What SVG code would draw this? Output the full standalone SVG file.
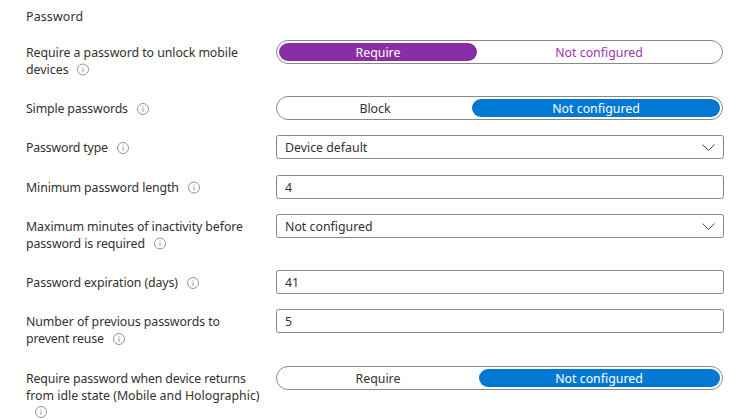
<svg xmlns="http://www.w3.org/2000/svg" width="752" height="420" viewBox="0 0 752 420">
<defs>
<g id="info"><circle cx="0" cy="0" r="5.5" fill="none" stroke="#8a8886" stroke-width="0.9"/><line x1="0" y1="-0.8" x2="0" y2="2.8" stroke="#8a8886" stroke-width="0.9"/><circle cx="0" cy="-2.5" r="0.6" fill="#8a8886"/></g>
</defs>
<style>
text{font-family:"Noto Sans","Open Sans","Liberation Sans",sans-serif;font-size:12.35px;fill:#323130}
.c{text-anchor:middle}
.w{fill:#fff}
.p{fill:#9b36ad}
.box{fill:#fff;stroke:#8a8886;stroke-width:1}
.chev{fill:none;stroke:#4a4a4a;stroke-width:1}
</style>
<rect width="752" height="420" fill="#fff"/>
<g id="heading"><text x="26" y="21" textLength="57">Password</text></g>

<g id="row-require-password">
<text x="26" y="57" textLength="212">Require a password to unlock mobile</text>
<text x="26" y="74">devices</text>
<use href="#info" x="83" y="69.5"/>
<rect class="box" x="276.5" y="40.5" width="446" height="23" rx="11.5"/>
<rect x="279" y="43" width="198" height="18" rx="9" fill="#8a2da5"/>
<text class="c w" x="378" y="57">Require</text>
<text class="c p" x="599" y="57">Not configured</text>
</g>

<g id="row-simple-passwords">
<text x="26" y="113" textLength="102">Simple passwords</text>
<use href="#info" x="143" y="109"/>
<rect class="box" x="276.5" y="96.5" width="446" height="23" rx="11.5"/>
<rect x="472" y="99" width="248" height="18" rx="9" fill="#0078d4"/>
<text class="c" x="375" y="113">Block</text>
<text class="c w" x="596" y="113">Not configured</text>
</g>

<g id="row-password-type">
<text x="26" y="152" textLength="82">Password type</text>
<use href="#info" x="123" y="148"/>
<rect class="box" x="276.5" y="135.5" width="447" height="23" rx="2"/>
<text x="285" y="152">Device default</text>
<path class="chev" d="M702.5 144.5L708.5 150.5L714.5 144.5"/>
</g>

<g id="row-min-length">
<text x="26" y="192" textLength="153">Minimum password length</text>
<use href="#info" x="194" y="187.5"/>
<rect class="box" x="276.5" y="175.5" width="447" height="23" rx="2"/>
<text x="285" y="192">4</text>
</g>

<g id="row-max-inactivity">
<text x="26" y="231" textLength="217">Maximum minutes of inactivity before</text>
<text x="26" y="248" textLength="119">password is required</text>
<use href="#info" x="160" y="243.5"/>
<rect class="box" x="276.5" y="214.5" width="447" height="23" rx="2"/>
<text x="285" y="231">Not configured</text>
<path class="chev" d="M702.5 223.5L708.5 229.5L714.5 223.5"/>
</g>

<g id="row-expiration">
<text x="26" y="287" textLength="152">Password expiration (days)</text>
<use href="#info" x="193" y="283"/>
<rect class="box" x="276.5" y="270.5" width="447" height="23" rx="2"/>
<text x="285" y="287">41</text>
</g>

<g id="row-previous">
<text x="26" y="326" textLength="194">Number of previous passwords to</text>
<text x="26" y="343" textLength="78">prevent reuse</text>
<use href="#info" x="119" y="339"/>
<rect class="box" x="276.5" y="309.5" width="447" height="23" rx="2"/>
<text x="285" y="326">5</text>
</g>

<g id="row-idle">
<text x="26" y="383" textLength="220">Require password when device returns</text>
<text x="26" y="400" textLength="233.5">from idle state (Mobile and Holographic)</text>
<use href="#info" x="41" y="412"/>
<rect class="box" x="276.5" y="366.5" width="446" height="23" rx="11.5"/>
<rect x="479" y="369" width="241" height="18" rx="9" fill="#0078d4"/>
<text class="c" x="378" y="383">Require</text>
<text class="c w" x="599" y="383">Not configured</text>
</g>
</svg>
